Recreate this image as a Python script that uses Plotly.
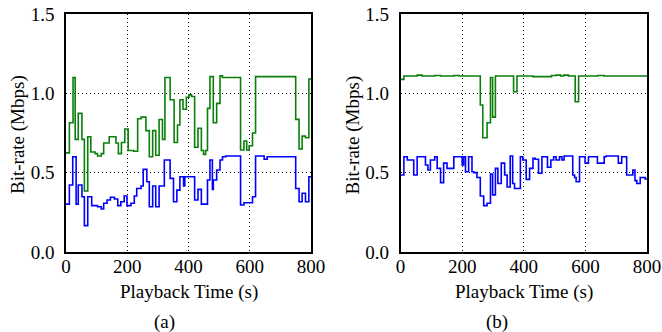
import plotly.graph_objects as go

# ---- data: (a) ----
a_green_t = [0,11,23,30,40,52,60,71,81,95,103,115,123,141,163,171,181,192,203,221,
             234,245,261,272,283,293,304,315,323,340,353,364,372,382,393,402,410,420,431,442,
             449,456,462,470,481,492,503,511,570,581,590,598,609,619,750,761,771,782,793,800]
a_green_v = [0.625,0.815,1.10,0.71,0.874,0.71,0.384,0.726,0.63,0.62,
             0.605,0.62,0.687,0.726,0.687,0.62,0.69,0.775,0.64,0.635,
             0.84,0.85,0.765,0.60,0.765,0.61,0.835,0.71,1.10,0.96,
             0.69,0.80,0.96,0.90,0.975,0.99,0.98,0.66,0.78,0.64,
             0.615,0.64,0.905,1.105,0.815,0.937,1.11,1.10,0.643,0.70,
             0.643,0.67,0.75,1.105,0.836,0.65,0.73,0.72,1.09,1.09]

a_blue_t = [0,11,22,33,40,52,60,71,84,103,115,123,134,145,158,169,179,190,199,212,
            223,231,245,252,264,272,283,293,304,321,340,351,362,372,384,388,420,431,442,462,
            470,478,481,492,503,511,522,570,581,609,619,647,657,750,761,771,782,793,800]
a_blue_v = [0.302,0.422,0.60,0.302,0.422,0.348,0.166,0.348,0.292,0.285,
            0.271,0.307,0.328,0.345,0.334,0.292,0.317,0.353,0.292,0.307,
            0.353,0.40,0.416,0.521,0.443,0.285,0.416,0.285,0.416,0.58,
            0.464,0.317,0.39,0.474,0.416,0.474,0.328,0.395,0.302,0.454,
            0.58,0.395,0.454,0.517,0.58,0.60,0.605,0.296,0.31,0.348,
            0.605,0.585,0.60,0.40,0.317,0.37,0.317,0.474,0.474]

# ---- data: (b) ----
b_green_t = [0,11,54,70,111,130,173,190,259,267,281,292,299,308,367,378,430,490,505,520,
             530,545,567,578,640,660,800]
b_green_v = [1.088,1.109,1.115,1.109,1.112,1.109,1.112,1.109,0.926,0.72,0.815,1.10,0.85,1.109,
             1.01,1.109,1.105,1.112,1.115,1.109,1.115,1.109,0.947,1.109,1.112,1.109,1.109]

b_blue_t = [0,11,22,43,54,81,89,97,111,119,130,140,151,173,200,205,211,221,232,238,
            248,259,270,281,292,299,308,316,327,338,346,356,364,370,389,397,408,419,430,437,
            448,459,477,488,497,505,516,524,531,559,565,570,581,599,610,639,661,667,707,718,
            734,754,761,767,778,794,800]
b_blue_v = [0.485,0.60,0.58,0.485,0.60,0.548,0.517,0.58,0.60,0.527,
            0.437,0.56,0.527,0.60,0.548,0.60,0.506,0.60,0.506,0.50,
            0.47,0.353,0.292,0.307,0.491,0.36,0.527,0.432,0.56,0.485,
            0.41,0.605,0.432,0.40,0.60,0.58,0.458,0.527,0.59,0.585,
            0.496,0.60,0.534,0.58,0.60,0.58,0.60,0.58,0.605,0.485,
            0.47,0.443,0.60,0.56,0.60,0.56,0.60,0.605,0.56,0.60,
            0.485,0.517,0.45,0.432,0.47,0.46,0.46]

x_ticks = [0, 200, 400, 600, 800]
y_ticks = [0.0, 0.5, 1.0, 1.5]
y_tick_text = ["0.0", "0.5", "1.0", "1.5"]
x_title = "Playback Time (s)"
y_title = "Bit-rate (Mbps)"
panel_labels = ["(a)", "(b)"]

GREEN = "#0a800a"
BLUE = "#0000ff"
FONT = "Liberation Serif"
FS = 19
W, H = 662, 332

fig = go.Figure()
panels = [(a_green_t, a_green_v, a_blue_t, a_blue_v),
          (b_green_t, b_green_v, b_blue_t, b_blue_v)]
for i, (gt, gv, bt, bv) in enumerate(panels):
    xa = "x" if i == 0 else "x2"
    ya = "y" if i == 0 else "y2"
    fig.add_trace(go.Scatter(x=gt, y=gv, mode="lines", line=dict(color=GREEN, width=1.6, shape="hv"),
                             xaxis=xa, yaxis=ya, showlegend=False, hoverinfo="skip"))
    fig.add_trace(go.Scatter(x=bt, y=bv, mode="lines", line=dict(color=BLUE, width=1.6, shape="hv"),
                             xaxis=xa, yaxis=ya, showlegend=False, hoverinfo="skip"))

px_left = [(66, 311), (400.5, 647)]
top_px, bot_px = 14, 252
ydom = [(H - bot_px) / H, (H - top_px) / H]

axis_common = dict(showline=True, mirror=True, linecolor="black", linewidth=1.5,
                   showgrid=True, gridcolor="black", griddash="1px,3px", gridwidth=1,
                   zeroline=False, ticks="", automargin=False,
                   tickfont=dict(family=FONT, size=FS, color="black"))

layout = dict(template="none", width=W, height=H, margin=dict(l=0, r=0, t=0, b=0),
              paper_bgcolor="white", plot_bgcolor="white",
              font=dict(family=FONT, size=FS, color="black"))
for i, (l, r) in enumerate(px_left):
    sx = "" if i == 0 else "2"
    layout["xaxis" + sx] = dict(axis_common, domain=[l / W, r / W], range=[0, 800],
                                tickvals=x_ticks, anchor="y" + sx, ticklabelstandoff=-4)
    layout["yaxis" + sx] = dict(axis_common, domain=ydom, range=[0, 1.5],
                                tickvals=y_ticks, ticktext=y_tick_text, anchor="x" + sx,
                                ticklabelstandoff=6)
fig.update_layout(**layout)

ann = []
for i, (l, r) in enumerate(px_left):
    cx = (l + r) / 2
    ann.append(dict(x=cx / W, y=(H - 292) / H, xref="paper", yref="paper", text=x_title,
                    showarrow=False, font=dict(family=FONT, size=FS, color="black"),
                    xanchor="center", yanchor="middle"))
    ann.append(dict(x=(l - 48) / W, y=(H - 135) / H, xref="paper", yref="paper", text=y_title,
                    showarrow=False, textangle=-90, font=dict(family=FONT, size=FS, color="black"),
                    xanchor="center", yanchor="middle"))
    lx = 164 if i == 0 else 497
    ann.append(dict(x=lx / W, y=(H - 322) / H, xref="paper", yref="paper", text=panel_labels[i],
                    showarrow=False, font=dict(family=FONT, size=FS, color="black"),
                    xanchor="center", yanchor="middle"))
fig.update_layout(annotations=ann)

fig.write_html("out.html", config={"displayModeBar": False},
               post_script="document.body.style.margin='0';")
